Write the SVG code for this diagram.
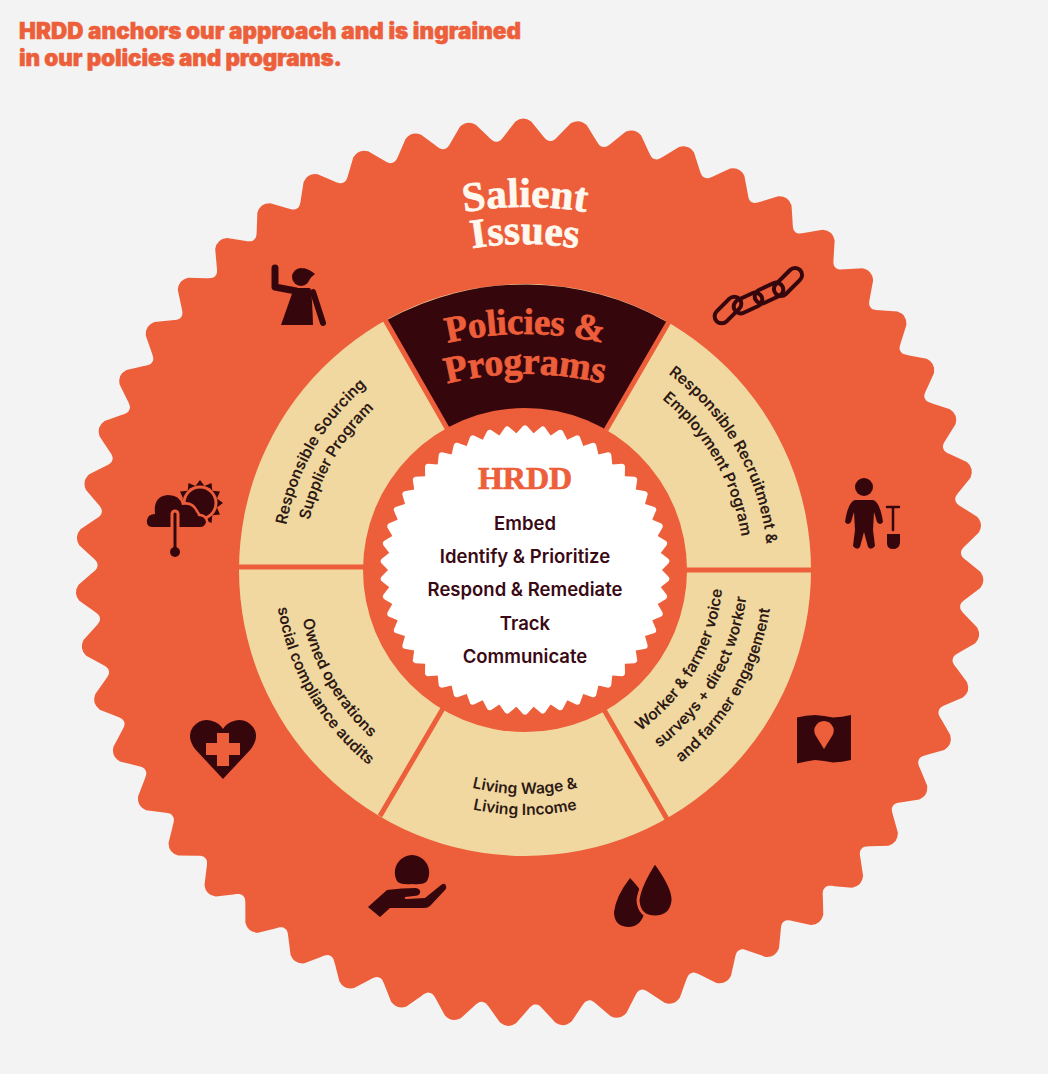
<svg xmlns="http://www.w3.org/2000/svg" width="1048" height="1074" viewBox="0 0 1048 1074">
<style>
.o{fill:#ED5E3A}.d{fill:#36060D}.c{fill:#F0D8A0}
.ser{font-family:"Liberation Serif",serif;font-weight:700;text-anchor:middle;stroke-width:.7px}
.lab{font-family:Inter,"Liberation Sans",sans-serif;font-weight:600;font-size:15.6px;fill:#2E1A14;text-anchor:middle}
.mid{font-family:Inter,"Liberation Sans",sans-serif;font-weight:600;font-size:18.5px;fill:#3A0A14;text-anchor:middle}
.ttl{font-family:Inter,"Liberation Sans",sans-serif;font-weight:900;font-size:22.5px;fill:#ED5E3A;stroke:#ED5E3A;stroke-width:.5px}
.ln{stroke:#ED5E3A;stroke-width:5;fill:none}
.ds{stroke:#36060D;fill:none;stroke-linecap:round;stroke-linejoin:round}
</style>
<defs>
<path id="t1" d="M-26.8 -428L-26.6 -431.2C-24 -431 -22 -433 -19 -437L-8 -451Q0 -457 8 -451L19 -437C22 -433 24 -431 26.6 -431.2L26.8 -428Z"/>
<g id="t17"><use href="#t1" transform="rotate(0)"/><use href="#t1" transform="rotate(7.059)"/><use href="#t1" transform="rotate(14.118)"/><use href="#t1" transform="rotate(21.176)"/><use href="#t1" transform="rotate(28.235)"/><use href="#t1" transform="rotate(35.294)"/><use href="#t1" transform="rotate(42.353)"/><use href="#t1" transform="rotate(49.412)"/><use href="#t1" transform="rotate(56.471)"/><use href="#t1" transform="rotate(63.529)"/><use href="#t1" transform="rotate(70.588)"/><use href="#t1" transform="rotate(77.647)"/><use href="#t1" transform="rotate(84.706)"/><use href="#t1" transform="rotate(91.765)"/><use href="#t1" transform="rotate(98.824)"/><use href="#t1" transform="rotate(105.882)"/><use href="#t1" transform="rotate(112.941)"/></g>
<path id="t2" d="M-8.6 -134L-8.54 -136.7L-2 -144Q0 -145.6 2 -144L8.54 -136.7L8.6 -134Z"/>
<g id="t10"><use href="#t2" transform="rotate(0)"/><use href="#t2" transform="rotate(7.2)"/><use href="#t2" transform="rotate(14.4)"/><use href="#t2" transform="rotate(21.6)"/><use href="#t2" transform="rotate(28.8)"/><use href="#t2" transform="rotate(36)"/><use href="#t2" transform="rotate(43.2)"/><use href="#t2" transform="rotate(50.4)"/><use href="#t2" transform="rotate(57.6)"/><use href="#t2" transform="rotate(64.8)"/></g>
<path id="a1" d="M435 218.3A363 363 0 0 1 615 218.3"/>
<path id="a2" d="M435 256.7A326 326 0 0 1 615 256.7"/>
<path id="a3" d="M425 349A340 340 0 0 1 625 349"/>
<path id="a4" d="M425 390A320 320 0 0 1 625 390"/>
<path id="ul1" d="M282 570A243 243 0 0 1 403.5 359.6"/>
<path id="ul2" d="M304 570A221 221 0 0 1 414.5 378.6"/>
<path id="ur1" d="M646.5 359.6A243 243 0 0 1 768 570"/>
<path id="ur2" d="M634.5 380.3A219 219 0 0 1 744 570"/>
<path id="ll1" d="M297 570A228 228 0 0 0 411 767.5"/>
<path id="ll2" d="M275 570A250 250 0 0 0 400 786.5"/>
<path id="b1" d="M413 764A224 224 0 0 0 637 764"/>
<path id="b2" d="M402.5 782.2A245 245 0 0 0 647.5 782.2"/>
<path id="lr1" d="M624 741.5A198 198 0 0 0 723 570"/>
<path id="lr2" d="M636.5 763.1A223 223 0 0 0 748 570"/>
<path id="lr3" d="M649 784.8A248 248 0 0 0 773 570"/>
</defs>
<rect width="1048" height="1074" fill="#F3F3F3"/>

<g id="title">
<text class="ttl" x="19" y="39" textLength="502">HRDD anchors our approach and is ingrained</text>
<text class="ttl" x="19" y="66" textLength="323">in our policies and programs.</text>
</g>

<g id="salient-burst" class="o" transform="translate(529.5 572.5) rotate(-0.8)">
<circle r="431.5"/>
<use href="#t17"/><use href="#t17" transform="rotate(120)"/><use href="#t17" transform="rotate(240)"/>
</g>
<g id="salient-label" fill="#FFF8EE" stroke="#FFF8EE">
<text class="ser" font-size="41.5"><textPath href="#a1" startOffset="50%">Salient</textPath></text>
<text class="ser" font-size="41.5"><textPath href="#a2" startOffset="50%">Issues</textPath></text>
</g>

<g id="ring">
<circle class="c" cx="525" cy="570" r="286"/>
<path class="d" d="M387 320A286 286 0 0 1 667 322L605 430L450 430Z"/>
</g>
<g id="separators">
<path class="ln" d="M384 318L448 430M670 320L606 430M380 816L445 705M667 819L603 708"/>
<path class="ln" d="M525 570L813 570M525 567L237 567"/>
</g>
<g id="policies-label" class="o" stroke="#ED5E3A">
<text class="ser" font-size="37" letter-spacing="-.3"><textPath href="#a3" startOffset="50%">Policies &amp;</textPath></text>
<text class="ser" font-size="38" letter-spacing="-.3"><textPath href="#a4" startOffset="50%">Programs</textPath></text>
</g>

<g id="segment-sourcing">
<text class="lab"><textPath href="#ul1" startOffset="50%">Responsible Sourcing</textPath></text>
<text class="lab"><textPath href="#ul2" startOffset="50%">Supplier Program</textPath></text>
</g>
<g id="segment-recruitment">
<text class="lab"><textPath href="#ur1" startOffset="50%">Responsible Recruitment &amp;</textPath></text>
<text class="lab"><textPath href="#ur2" startOffset="50%">Employment Program</textPath></text>
</g>
<g id="segment-audits">
<text class="lab"><textPath href="#ll1" startOffset="50%">Owned operations</textPath></text>
<text class="lab"><textPath href="#ll2" startOffset="50%">social compliance audits</textPath></text>
</g>
<g id="segment-wage">
<text class="lab"><textPath href="#b1" startOffset="50%">Living Wage &amp;</textPath></text>
<text class="lab"><textPath href="#b2" startOffset="50%">Living Income</textPath></text>
</g>
<g id="segment-voice">
<text class="lab"><textPath href="#lr1" startOffset="50%">Worker &amp; farmer voice</textPath></text>
<text class="lab"><textPath href="#lr2" startOffset="50%">surveys + direct worker</textPath></text>
<text class="lab"><textPath href="#lr3" startOffset="50%">and farmer engagement</textPath></text>
</g>

<g id="hrdd">
<circle class="o" cx="525" cy="570" r="162"/>
<g fill="#FFFFFF" transform="translate(525 570)">
<circle r="137"/>
<use href="#t10"/><use href="#t10" transform="rotate(72)"/><use href="#t10" transform="rotate(144)"/><use href="#t10" transform="rotate(216)"/><use href="#t10" transform="rotate(288)"/>
</g>
<text class="ser o" x="525" y="489" font-size="32" stroke="#ED5E3A">HRDD</text>
<text class="mid" x="525" y="530">Embed</text>
<text class="mid" x="525" y="563">Identify &amp; Prioritize</text>
<text class="mid" x="525" y="596">Respond &amp; Remediate</text>
<text class="mid" x="525" y="630">Track</text>
<text class="mid" x="525" y="663">Communicate</text>
</g>

<g id="icon-woman">
<path class="ds" stroke-width="7" d="M275 268L275 287L296 291"/>
<path class="ds" stroke-width="6" d="M313 292L323 323"/>
<circle class="d" cx="301" cy="277" r="9"/>
<path class="d" d="M303 268Q309 269 315 274Q311 277 309 280Z"/>
<path class="d" d="M294 288L310 288Q312 290 313 325L281 325Z"/>
</g>

<g id="icon-climate">
<path class="d" transform="translate(200 503) scale(.92) translate(-200 -503)" d="M225 503L218.4 498.1L221.7 490.5L213.4 489.6L212.5 481.3L204.9 484.6L200 478L195.1 484.6L187.5 481.3L186.6 489.6L178.3 490.5L181.6 498.1L175 503L181.6 507.9L178.3 515.5L186.6 516.4L187.5 524.7L195.1 521.4L200 528L204.9 521.4L212.5 524.7L213.4 516.4L221.7 515.5L218.4 507.9Z"/>
<circle cx="200" cy="503" r="17.5" class="o"/>
<circle cx="200" cy="503" r="14.5" class="d"/>
<path class="o" stroke="#ED5E3A" stroke-width="5" stroke-linejoin="round" d="M153 527Q146 527 147 520Q148 514 155 514Q153 496 168 495Q180 495 182 505Q192 503 196 512Q198 514 198 516Q205 516 206 522Q205 527 200 527Z"/>
<path class="d" d="M153 527Q146 527 147 520Q148 514 155 514Q153 496 168 495Q180 495 182 505Q192 503 196 512Q198 514 198 516Q205 516 206 522Q205 527 200 527Z"/>
<path d="M175 514L175 552" stroke="#ED5E3A" stroke-width="9" stroke-linecap="round" fill="none"/>
<circle cx="175" cy="552" r="7" class="o"/>
<path class="ds" stroke-width="3" d="M175 514L175 550"/>
<circle cx="175" cy="552" r="5" class="d"/>
</g>

<g id="icon-chain" class="ds" stroke-width="4">
<rect x="-16" y="-7" width="32" height="14" rx="7" transform="translate(728 310) rotate(-45)"/>
<rect x="-15" y="-7" width="30" height="14" rx="7" transform="translate(748 303) rotate(-25)"/>
<rect x="-15" y="-7" width="30" height="14" rx="7" transform="translate(769 293) rotate(-25)"/>
<rect x="-17" y="-7" width="34" height="14" rx="7" transform="translate(788 282) rotate(-45)"/>
</g>

<g id="icon-worker">
<circle class="d" cx="864" cy="487" r="9"/>
<path class="d" d="M855 500L873 500Q880 502 883 522Q880 526 877 522L874 512L873 530L875 546Q871 551 868 547L864 532L860 547Q857 551 853 546L855 530L854 512L851 522Q848 526 845 522Q848 502 855 500Z"/>
<path class="ds" stroke-width="2.5" d="M887 507L899 507M893 507L893 530"/>
<path class="d" d="M887 534L900 534L900 543Q899 549 893 549Q887 549 887 543Z"/>
</g>

<g id="icon-map">
<path class="d" d="M797 717.5Q806 715 815 715Q824 715.5 833 717.5Q842 717 851 715L851 760Q842 762 833 762.5Q824 760.5 815 760Q806 761 797 763.5Z"/>
<path class="o" d="M824 749L816 736Q813 731 815 727Q818 721 824 721Q830 721 833 727Q835 731 832 736Z"/>
</g>

<g id="icon-drops">
<path class="d" d="M630 878Q648 896 645 910Q642 927 628 927Q614 926 614 912Q616 896 630 878Z"/>
<path class="d" stroke="#ED5E3A" stroke-width="3" d="M655 862Q674 888 673 901Q671 917 655 917Q639 917 638 900Q640 885 655 862Z"/>
</g>

<g id="icon-hand">
<path class="d" d="M412 855A17.5 17.5 0 0 1 427 881Q424 885 412 884Q400 885 397 881A17.5 17.5 0 0 1 412 855Z"/>
<path class="d" d="M368 907L387 890Q402 888 416 888Q421 889 420 893Q419 896 414 896L405 897Q404 899 407 899L425 898L441 885Q445 882 446 886Q447 888 445 890L430 906Q428 908 424 908L390 908L380 917Z"/>
</g>

<g id="icon-heart">
<path class="d" d="M223 779L195 749Q186 736 193 727Q202 716 215 722Q220 724 223 729Q226 724 231 722Q244 716 253 727Q260 736 251 749Z"/>
<path class="o" d="M217 733H229V743H240V755H229V766H217V755H206V743H217Z"/>
</g>
</svg>
